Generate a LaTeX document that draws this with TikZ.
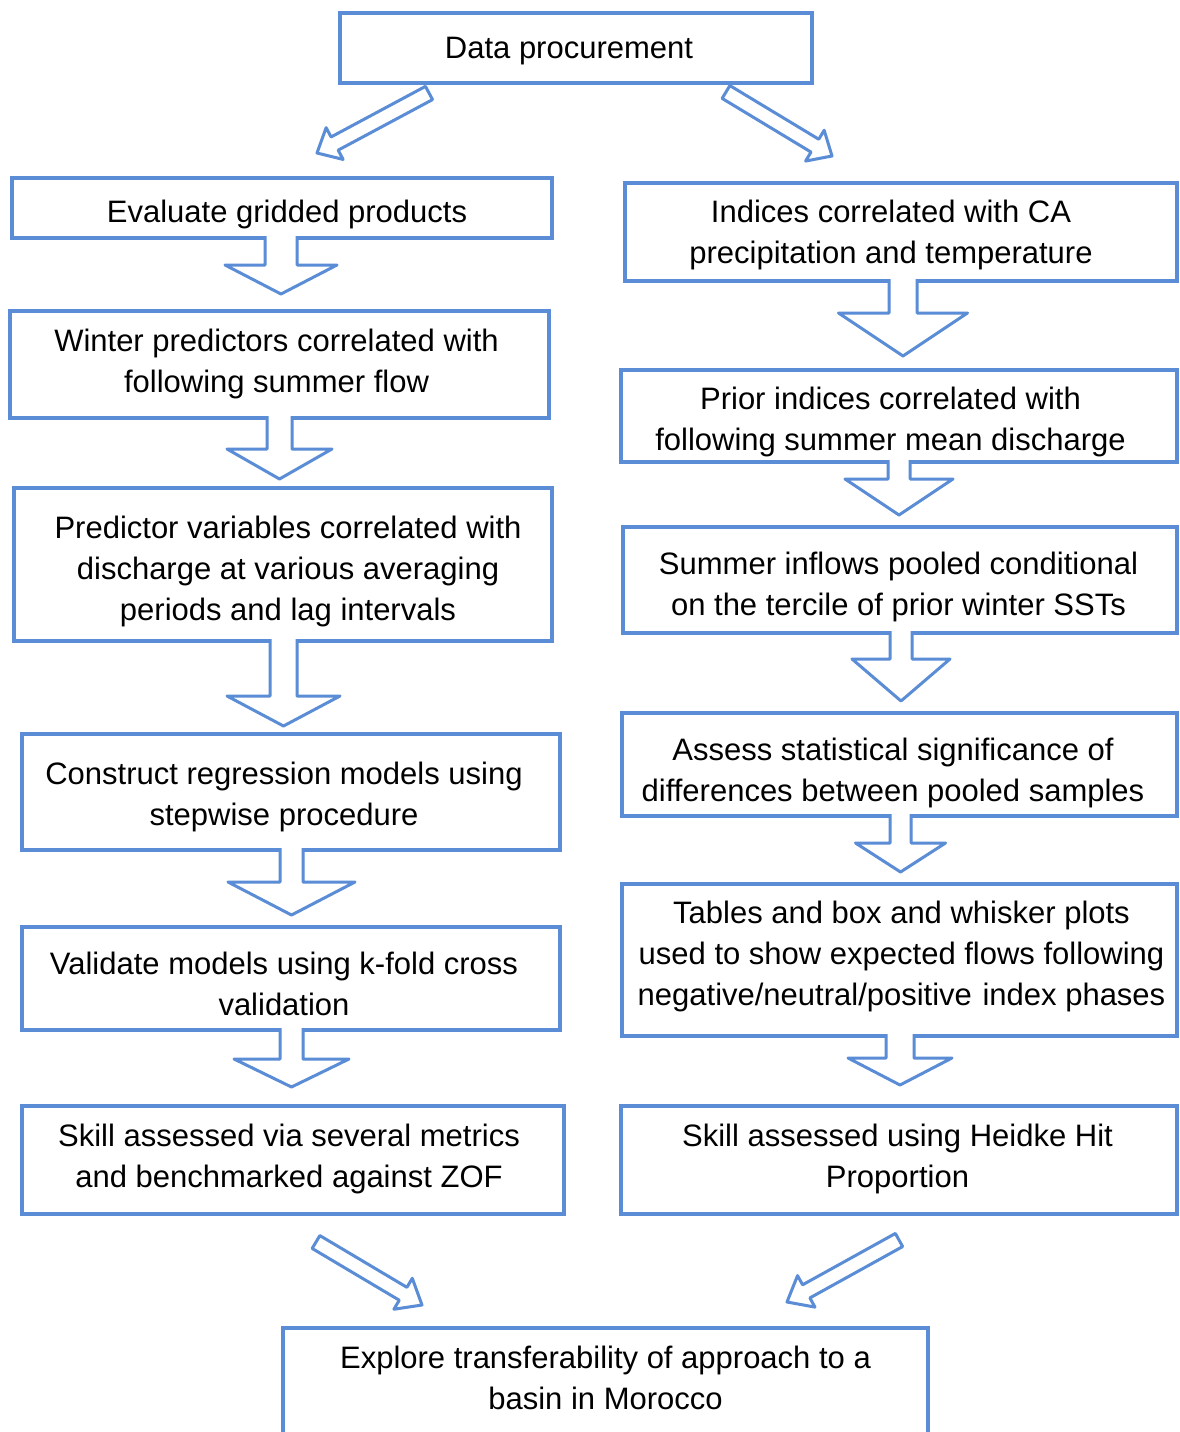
\documentclass[tikz,border=0pt]{standalone}
\usepackage{fontspec}
\setmainfont{Liberation Sans}
\usetikzlibrary{calc}
\definecolor{bl}{HTML}{5A8DD5}
\tikzset{
  box/.style={draw=bl, line width=3.5pt, fill=white, align=center, inner sep=0pt, outer sep=0pt,
    font=\fontsize{31}{41}\selectfont},
  arrline/.style={draw=bl, line width=3pt, line join=round}
}
% height of first line, depth of last line, horizontal padding
\newcommand\tup[1]{\rule{0pt}{#1pt}}
\newcommand\tdn[1]{\rule[-#1pt]{0pt}{#1pt}}
\newcommand\rs[1]{\hspace*{#1pt}}
% #1 tail, #2 tip, #3 shaft half width, #4 head half width, #5 head length, #6 1=closed 0=open tail
\newcommand\blockarrow[6]{%
  \coordinate (hc) at ($(#2)!#5pt!(#1)$);
  \coordinate (a1) at ($(#1)!#3pt!90:(#2)$);
  \coordinate (a2) at ($(hc)!#3pt!90:(#2)$);
  \coordinate (a3) at ($(hc)!#4pt!90:(#2)$);
  \coordinate (a5) at ($(hc)!#4pt!-90:(#2)$);
  \coordinate (a6) at ($(hc)!#3pt!-90:(#2)$);
  \coordinate (a7) at ($(#1)!#3pt!-90:(#2)$);
  \fill[white] (a1)--(a2)--(a3)--(#2)--(a5)--(a6)--(a7)--cycle;
  \ifnum#6=1
    \draw[arrline] (a1)--(a2)--(a3)--(#2)--(a5)--(a6)--(a7)--cycle;
  \else
    \draw[arrline] (a1)--(a2)--(a3)--(#2)--(a5)--(a6)--(a7);
  \fi
}
% #1 from node, #2 to node, #3 x centre, #4 shaft half width, #5 head half width, #6 head length, #7 gap, #8 name
\newcommand\downarr[8]{%
  \path let \p1=(#1.south), \p2=(#2.north) in
    coordinate (#8T) at (#3pt,\y1+2pt)
    coordinate (#8P) at (#3pt,\y2+#7pt);
  \blockarrow{#8T}{#8P}{#4}{#5}{#6}{0}
}
\begin{document}
\begin{tikzpicture}[x=1pt,y=-1pt]
\useasboundingbox (0,0) rectangle (1179,1432);
\clip (0,0) rectangle (1179,1432);
\fill[white] (0,0) rectangle (1179,1432);

% top
\node[box, minimum width=472, minimum height=70] (D) at (576,48)
  {\tup{29}Data procurement\rs{14}\tdn{9}};

% left column
\node[box, minimum width=540, minimum height=60] (L1) at (282,208)
  {\tup{37}\rs{10}Evaluate gridded products\tdn{9}};
\node[box, minimum width=539, minimum height=107] (L2) at (279.5,364.5)
  {\tup{23}Winter predictors correlated with\rs{6}\\following summer flow\rs{6}\tdn{9}};
\node[box, minimum width=538, minimum height=153] (L3) at (283,564.5)
  {\tup{38}\rs{10}Predictor variables correlated with\\\rs{10}discharge at various averaging\\\rs{10}periods and lag intervals\tdn{9}};
\node[box, minimum width=538, minimum height=116] (L4) at (291,792)
  {\tup{34}Construct regression models using\rs{14}\\stepwise procedure\rs{14}\tdn{9}};
\node[box, minimum width=538, minimum height=103] (L5) at (291,978.5)
  {\tup{41}Validate models using k-fold cross\rs{14}\\validation\rs{14}\tdn{9}};
\node[box, minimum width=542, minimum height=108] (L6) at (293,1160)
  {\tup{23}Skill assessed via several metrics\rs{8}\\and benchmarked against ZOF\rs{8}\tdn{10}};

% right column
\node[box, minimum width=552, minimum height=98] (R1) at (901,232)
  {\tup{30}Indices correlated with CA\rs{20}\\precipitation and temperature\rs{20}\tdn{9}};
\node[box, minimum width=556, minimum height=92] (R2) at (899,416)
  {\tup{36}Prior indices correlated with\rs{17}\\following summer mean discharge\rs{17}\tdn{9}};
\node[box, minimum width=554, minimum height=106] (R3) at (900,580)
  {\tup{38}Summer inflows pooled conditional\rs{3}\\on the tercile of prior winter SSTs\rs{3}\tdn{9}};
\node[box, minimum width=555, minimum height=103] (R4) at (899.5,764.5)
  {\tup{41}Assess statistical significance of\rs{13}\\differences between pooled samples\rs{13}\tdn{9}};
\node[box, minimum width=555, minimum height=152] (R5) at (899.5,960)
  {\tup{25}\rs{4}Tables and box and whisker plots\\\rs{4}used to show expected flows following\\\rs{4}negative/neutral/positive\hspace{2pt} index phases\tdn{17}};
\node[box, minimum width=556, minimum height=108] (R6) at (899,1160)
  {\tup{23}Skill assessed using Heidke Hit\rs{3}\\Proportion\rs{3}\tdn{10}};

% bottom
\node[box, minimum width=645, minimum height=117] (B) at (605.5,1386.5)
  {\tup{25}Explore transferability of approach to a\\basin in Morocco\tdn{21}};

% down arrows, left
\downarr{L1}{L2}{281}{16}{56}{29}{17}{A1}
\downarr{L2}{L3}{279.5}{12.5}{52.5}{30}{9}{A2}
\downarr{L3}{L4}{283.5}{13.5}{56.5}{30}{8}{A3}
\downarr{L4}{L5}{291.5}{11.5}{63.5}{33}{12}{A4}
\downarr{L5}{L6}{291.5}{11.5}{57.5}{28}{19}{A5}

% down arrows, right
\downarr{R1}{R2}{903}{14}{64.5}{43}{14}{B1}
\downarr{R2}{R3}{899}{11}{54}{36}{12}{B2}
\downarr{R3}{R4}{901}{11}{49}{42}{12}{B3}
\downarr{R4}{R5}{900.5}{10.5}{45}{29}{12}{B4}
\downarr{R5}{R6}{900}{14}{52}{27}{21}{B5}

% diagonal arrows
\coordinate (d1t) at (429,93);
\coordinate (d1p) at (317,153);
\coordinate (d2t) at (726,92);
\coordinate (d2p) at (832,156);
\coordinate (d3t) at (316,1242);
\coordinate (d3p) at (422,1305);
\coordinate (d4t) at (899,1240);
\coordinate (d4p) at (787,1302);
\blockarrow{d1t}{d1p}{7.5}{18}{20}{1}
\blockarrow{d2t}{d2p}{7.5}{18}{20}{1}
\blockarrow{d3t}{d3p}{7.5}{18}{22}{1}
\blockarrow{d4t}{d4p}{7.5}{18}{22}{1}
\end{tikzpicture}
\end{document}
